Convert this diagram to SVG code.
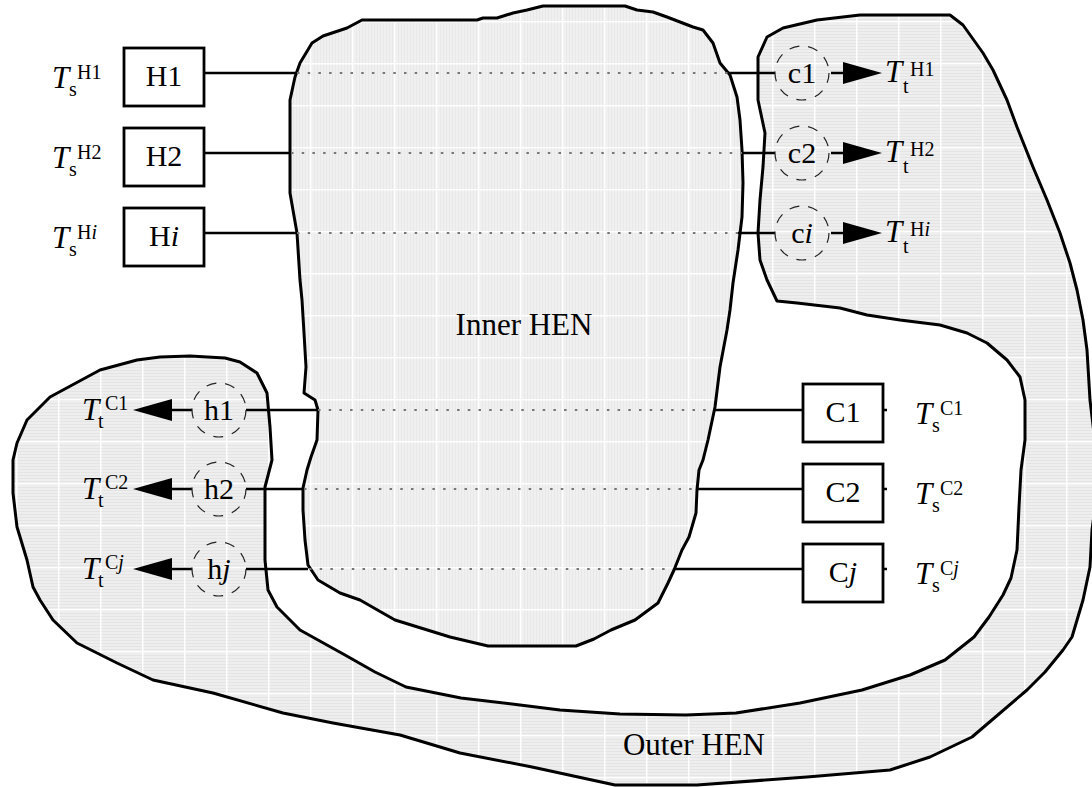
<svg xmlns="http://www.w3.org/2000/svg" width="1092" height="787" viewBox="0 0 1092 787">
  <defs>
    <!-- light grey network fill with a faint white grid -->
    <pattern id="fillH" width="42" height="42" patternUnits="userSpaceOnUse" x="16" y="21">
      <rect width="42" height="42" fill="#eeeeee"/>
      <path d="M0 1.5H42M0 4.5H42M0 7.5H42M0 10.5H42M0 13.5H42M0 16.5H42M0 19.5H42M0 22.5H42M0 25.5H42M0 28.5H42M0 31.5H42M0 34.5H42M0 37.5H42M0 40.5H42" stroke="#e4e4e4" stroke-width="1"/>
      <path d="M0.75 0V42M0 0.75H42" stroke="#ffffff" stroke-width="1.5"/>
    </pattern>
    <pattern id="fillV" width="42" height="42" patternUnits="userSpaceOnUse" x="16" y="21">
      <rect width="42" height="42" fill="#f0f0f0"/>
      <path d="M1.5 0V42M4.5 0V42M7.5 0V42M10.5 0V42M13.5 0V42M16.5 0V42M19.5 0V42M22.5 0V42M25.5 0V42M28.5 0V42M31.5 0V42M34.5 0V42M37.5 0V42M40.5 0V42" stroke="#e8e8e8" stroke-width="1"/>
      <path d="M0.75 0V42M0 0.75H42" stroke="#ffffff" stroke-width="1.5"/>
    </pattern>
  </defs>
  <style>
    .edge { stroke: #000; stroke-width: 3; stroke-linejoin: round; }
    .box { fill: #fff; stroke: #000; stroke-width: 2.8; }
    .wire { stroke: #000; stroke-width: 2.5; fill: none; }
    .dots { stroke: #777; stroke-width: 1.8; stroke-dasharray: 2.5 8.2; fill: none; }
    .unit { fill: none; stroke: #222; stroke-width: 1.2; stroke-dasharray: 10 9; }
    .head { fill: #000; }
    text { font-family: "Liberation Serif", "Times New Roman", serif; fill: #000; }
    .lbl { font-size: 30px; text-anchor: middle; }
    .big { font-size: 31px; text-anchor: middle; }
    .T { font-size: 31px; font-style: italic; }
    .sm { font-size: 20px; }
    .it { font-style: italic; }
  </style>

  <rect width="1092" height="787" fill="#fff"/>

  <!-- outer heat-exchanger network region -->
  <g id="outer-hen">
    <path class="edge" fill="url(#fillH)" d="M137,360 L160,357 L190,356 L225,358 L240,362 L257,373 L267,393 L270,427 L272,460 L265,487 L265,560 L268,590 L277,607 L300,630 L345,655 L375,672 L406,687 L461,698 L520,705 L560,710 L620,714 L686,715 L736,713 L800,703 L862,690 L910,675 L945,660 L974,637 L989,617 L1003,595 L1011,578 L1017,550 L1019,507 L1021,470 L1025,440 L1025,400 L1020,377 L1007,360 L987,343 L967,333 L940,325 L900,320 L867,315 L840,308 L797,303 L777,301 L767,280 L760,260 L758,233 L760,200 L763,167 L765,133 L758,100 L758,57 L767,37 L783,28 L817,20 L860,15 L950,15 L963,25 L983,53 L993,70 L1007,100 L1017,127 L1033,167 L1047,200 L1060,233 L1070,263 L1077,290 L1083,320 L1087,350 L1090,400 L1096,450 L1096,500 L1092,530 L1090,567 L1083,600 L1072,637 L1063,650 L1045,672 L1027,690 L972,737 L930,757 L890,770 L807,777 L697,785 L615,785 L532,767 L460,753 L400,735 L333,723 L283,713 L213,693 L153,680 L117,663 L77,643 L53,620 L40,600 L33,587 L27,560 L17,527 L13,493 L13,460 L17,443 L27,420 L50,397 L100,370 Z"/>
    <text class="big" x="694" y="755">Outer HEN</text>
  </g>

  <!-- inner heat-exchanger network region -->
  <g id="inner-hen">
    <path class="edge" fill="url(#fillV)" d="M290,100 L295,77 L300,63 L312,43 L323,36 L347,28 L362,20 L477,20 L483,18 L497,18 L513,13 L527,10 L543,6 L625,6 L637,10 L653,12 L667,17 L693,27 L703,30 L713,43 L720,63 L730,75 L737,97 L740,120 L742,150 L743,183 L742,217 L738,250 L733,283 L730,310 L727,330 L720,367 L715,407 L708,440 L703,460 L699,470 L697,490 L696,513 L689,537 L682,550 L674,570 L668,583 L658,603 L635,620 L611,630 L594,639 L576,646 L488,646 L450,637 L395,620 L360,600 L340,593 L318,580 L308,565 L305,540 L303,510 L303,488 L307,470 L311,457 L317,440 L318,410 L315,400 L304,393 L306,367 L304,333 L302,300 L300,280 L297,233 L290,193 Z"/>
    <text class="big" x="524" y="335">Inner HEN</text>
  </g>

  <!-- stream connectors -->
  <g id="connectors">
    <!-- hot streams -->
    <path class="wire" d="M204,73H296M728,73H775M831,73H845"/>
    <path class="dots" d="M297,73H728"/>
    <path class="wire" d="M204,153H290M743,153H775M831,153H845"/>
    <path class="dots" d="M291,153H742"/>
    <path class="wire" d="M204,233H296M738,233H775M831,233H845"/>
    <path class="dots" d="M297,233H738"/>
    <polygon class="head" points="843,62 882,73 843,84"/>
    <polygon class="head" points="843,142 882,153 843,164"/>
    <polygon class="head" points="843,222 882,233 843,244"/>
    <!-- cold streams -->
    <path class="wire" d="M170,410H192M246,410H317M714,410H803M883,410H887"/>
    <path class="dots" d="M318,410H713"/>
    <path class="wire" d="M170,489H192M246,489H303M697,489H803M883,489H887"/>
    <path class="dots" d="M304,489H696"/>
    <path class="wire" d="M170,569H192M246,569H308M674,569H803M883,569H887"/>
    <path class="dots" d="M309,569H673"/>
    <polygon class="head" points="172,399 133,410 172,421"/>
    <polygon class="head" points="172,478 133,489 172,500"/>
    <polygon class="head" points="172,558 133,569 172,580"/>
  </g>

  <!-- hot stream sources -->
  <g id="H1">
    <rect class="box" x="124" y="48" width="80" height="58"/>
    <text class="lbl" x="164" y="86">H1</text>
    <text class="T" x="52" y="88">T</text><text class="sm" x="69" y="96">s</text><text class="sm" x="77" y="79">H1</text>
  </g>
  <g id="H2">
    <rect class="box" x="124" y="128" width="80" height="58"/>
    <text class="lbl" x="164" y="166">H2</text>
    <text class="T" x="52" y="168">T</text><text class="sm" x="69" y="176">s</text><text class="sm" x="77" y="159">H2</text>
  </g>
  <g id="Hi">
    <rect class="box" x="124" y="208" width="80" height="58"/>
    <text class="lbl" x="164" y="246">H<tspan class="it">i</tspan></text>
    <text class="T" x="52" y="248">T</text><text class="sm" x="69" y="256">s</text><text class="sm" x="77" y="239">H<tspan class="it">i</tspan></text>
  </g>

  <!-- coolers on hot streams -->
  <g id="c1">
    <circle class="unit" cx="802" cy="73" r="27"/>
    <text class="lbl" x="802" y="83">c1</text>
    <text class="T" x="885" y="82">T</text><text class="sm" x="903" y="93">t</text><text class="sm" x="910" y="76">H1</text>
  </g>
  <g id="c2">
    <circle class="unit" cx="802" cy="153" r="27"/>
    <text class="lbl" x="802" y="163">c2</text>
    <text class="T" x="885" y="162">T</text><text class="sm" x="903" y="173">t</text><text class="sm" x="910" y="156">H2</text>
  </g>
  <g id="ci">
    <circle class="unit" cx="802" cy="233" r="27"/>
    <text class="lbl" x="802" y="243">c<tspan class="it">i</tspan></text>
    <text class="T" x="885" y="242">T</text><text class="sm" x="903" y="253">t</text><text class="sm" x="910" y="236">H<tspan class="it">i</tspan></text>
  </g>

  <!-- heaters on cold streams -->
  <g id="h1">
    <circle class="unit" cx="219" cy="410" r="27"/>
    <text class="lbl" x="219" y="420">h1</text>
    <text class="T" x="82" y="420">T</text><text class="sm" x="98" y="428">t</text><text class="sm" x="105" y="410">C1</text>
  </g>
  <g id="h2">
    <circle class="unit" cx="219" cy="489" r="27"/>
    <text class="lbl" x="219" y="499">h2</text>
    <text class="T" x="82" y="499">T</text><text class="sm" x="98" y="507">t</text><text class="sm" x="105" y="489">C2</text>
  </g>
  <g id="hj">
    <circle class="unit" cx="219" cy="569" r="27"/>
    <text class="lbl" x="219" y="579">h<tspan class="it">j</tspan></text>
    <text class="T" x="82" y="579">T</text><text class="sm" x="98" y="587">t</text><text class="sm" x="105" y="569">C<tspan class="it">j</tspan></text>
  </g>

  <!-- cold stream sources -->
  <g id="C1">
    <rect class="box" x="803" y="384" width="80" height="58"/>
    <text class="lbl" x="843" y="422">C1</text>
    <text class="T" x="915" y="424">T</text><text class="sm" x="932" y="432">s</text><text class="sm" x="940" y="415">C1</text>
  </g>
  <g id="C2">
    <rect class="box" x="803" y="464" width="80" height="58"/>
    <text class="lbl" x="843" y="502">C2</text>
    <text class="T" x="915" y="504">T</text><text class="sm" x="932" y="512">s</text><text class="sm" x="940" y="495">C2</text>
  </g>
  <g id="Cj">
    <rect class="box" x="803" y="544" width="80" height="58"/>
    <text class="lbl" x="843" y="582">C<tspan class="it">j</tspan></text>
    <text class="T" x="915" y="584">T</text><text class="sm" x="932" y="592">s</text><text class="sm" x="940" y="575">C<tspan class="it">j</tspan></text>
  </g>
</svg>
